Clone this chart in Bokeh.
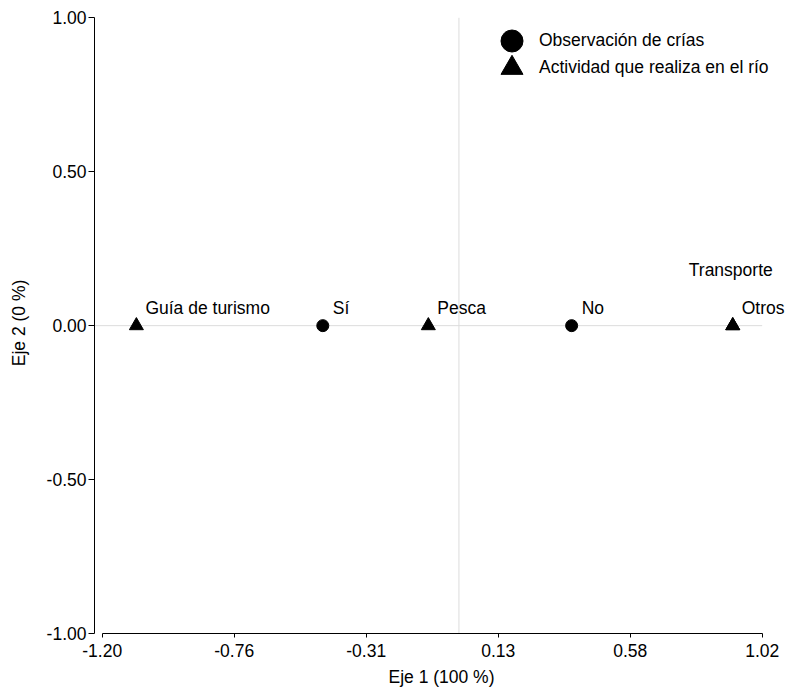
import numpy as np
from bokeh.plotting import figure
from bokeh.models import ColumnDataSource, Range1d, FixedTicker, Legend, LegendItem
from bokeh.core.properties import value
from bokeh.embed import file_html
from bokeh.resources import INLINE

# ---- data ----
obs_labels = ["Sí", "No"]
obs_x = [-0.458, 0.379]
obs_y = [0.0, 0.0]

act_labels = ["Guía de turismo", "Pesca", "Otros", "Transporte"]
act_x = [-1.085, -0.103, 0.921, 0.921]
act_y = [0.0, 0.0, 0.0, 0.0]

x_tick_labels = ["-1.20", "-0.76", "-0.31", "0.13", "0.58", "1.02"]
y_tick_labels = ["-1.00", "-0.50", "0.00", "0.50", "1.00"]
x_min, x_max = -1.20, 1.02
y_min, y_max = -1.00, 1.00

FONT = "Liberation Sans"
FS = "17.5px"

p = figure(width=788, height=692, output_backend="svg", toolbar_location=None,
           x_range=Range1d(-1.2259, 1.1085), y_range=Range1d(-1.0, 1.0172),
           min_border_left=94, min_border_top=12, min_border_right=0,
           min_border_bottom=59, outline_line_color=None)
p.grid.visible = False
p.background_fill_color = "white"

# zero reference lines
p.segment(x0=[p.x_range.start], y0=[0], x1=[x_max], y1=[0], line_color="#dcdcdc", line_width=1)
p.segment(x0=[0], y0=[y_min], x1=[0], y1=[y_max], line_color="#dcdcdc", line_width=1)

obs_src = ColumnDataSource(dict(x=obs_x, y=obs_y, label=obs_labels))
act_main = ColumnDataSource(dict(x=act_x[:3], y=act_y[:3], label=act_labels[:3]))
act_rep = ColumnDataSource(dict(x=act_x[3:], y=act_y[3:], label=act_labels[3:]))
act_src = ColumnDataSource(dict(x=act_x, y=act_y, label=act_labels))

r_obs = p.scatter("x", "y", source=obs_src, marker="circle", size=12,
                  fill_color="black", line_color="black")
r_act = p.scatter("x", "y", source=act_src, marker="triangle", size=14,
                  fill_color="black", line_color="black")

for src, dx, dy in [(obs_src, 10, -18), (act_main, 9, -18), (act_rep, -44, -56)]:
    p.text("x", "y", text="label", source=src, x_offset=dx, y_offset=dy,
           text_font=value(FONT), text_font_size=FS, text_color="black",
           text_baseline="alphabetic", text_align="left")

# axes
xticks = list(np.linspace(x_min, x_max, len(x_tick_labels)))
yticks = list(np.linspace(y_min, y_max, len(y_tick_labels)))
p.xaxis.ticker = FixedTicker(ticks=xticks)
p.xaxis.major_label_overrides = {t: l for t, l in zip(xticks, x_tick_labels)}
p.yaxis.ticker = FixedTicker(ticks=yticks)
p.yaxis.major_label_overrides = {t: l for t, l in zip(yticks, y_tick_labels)}
p.xaxis.bounds = (x_min, x_max)
p.yaxis.bounds = (y_min, y_max)
p.xaxis.axis_label = "Eje 1 (100 %)"
p.yaxis.axis_label = "Eje 2 (0 %)"
for ax in (p.xaxis, p.yaxis):
    ax.axis_label_text_font = FONT
    ax.axis_label_text_font_size = FS
    ax.axis_label_text_font_style = "normal"
    ax.axis_label_text_color = "black"
    ax.major_label_text_font = FONT
    ax.major_label_text_font_size = FS
    ax.major_label_text_color = "black"
    ax.minor_tick_line_color = None
    ax.major_tick_in = 0
    ax.axis_line_color = "black"
    ax.major_tick_line_color = "black"
p.xaxis.major_tick_out = 4
p.xaxis.major_label_standoff = 6
p.xaxis.axis_label_standoff = 7
p.yaxis.major_tick_out = 6
p.yaxis.major_label_standoff = 2
p.yaxis.axis_label_standoff = 15

common = dict(glyph_width=55, glyph_height=55, padding=0, margin=0, label_standoff=0,
              label_text_font=FONT, label_text_font_size=FS, label_text_color="black",
              background_fill_alpha=0, border_line_color=None)
leg1 = Legend(items=[LegendItem(label="Observación de crías", renderers=[r_obs])],
              location=(390, 565), **common)
leg2 = Legend(items=[LegendItem(label="Actividad que realiza en el río", renderers=[r_act])],
              location=(390, 538), **common)
p.add_layout(leg1)
p.add_layout(leg2)

open("out.html", "w").write(file_html(p, INLINE))
